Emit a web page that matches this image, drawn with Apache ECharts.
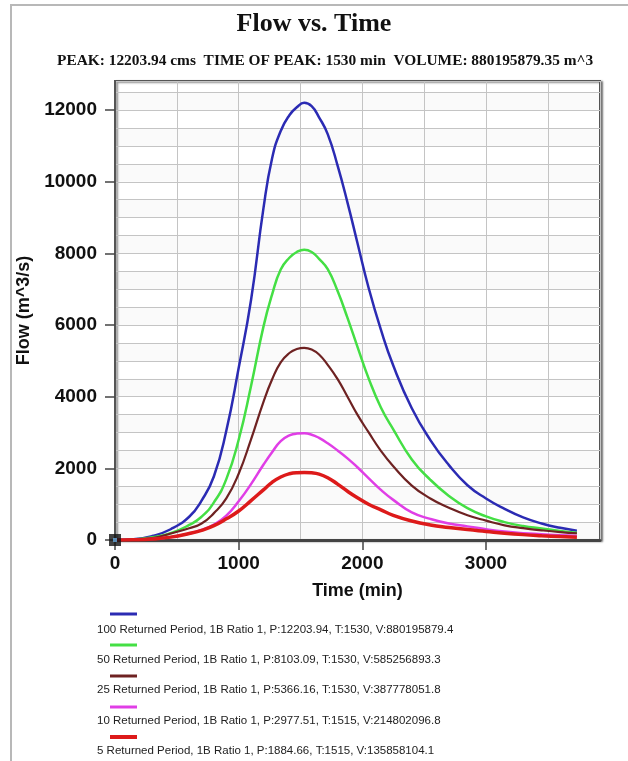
<!DOCTYPE html>
<html>
<head>
<meta charset="utf-8">
<script src="https://cdn.jsdelivr.net/npm/echarts@6/dist/echarts.min.js"></script>
<style>
html,body{margin:0;padding:0;background:#fff;}
#chart{width:628px;height:761px;}
</style>
</head>
<body>
<div id="chart"></div>
<script>
// ---- data ----
var titleText = 'Flow vs. Time';
var subtitleText = 'PEAK: 12203.94 cms  TIME OF PEAK: 1530 min  VOLUME: 880195879.35 m^3';
var xAxisName = 'Time (min)';
var yAxisName = 'Flow (m^3/s)';
var xTickValues = [0, 1000, 2000, 3000];
var yTickValues = [0, 2000, 4000, 6000, 8000, 10000, 12000];
var times = [0,150,300,450,600,700,800,900,1000,1100,1200,1270,1340,1410,1470,1530,1590,1650,1720,1800,1880,1960,2050,2150,2250,2400,2550,2700,2850,3000,3150,3300,3450,3600,3735];
var q100 = [0,20,110,300,650,1100,1780,3050,4800,6700,9250,10650,11420,11860,12080,12204,12110,11800,11330,10450,9420,8300,7050,5870,4870,3680,2790,2090,1530,1160,870,630,460,340,260];
var q50  = [0,15,75,190,420,650,1050,1700,2800,4300,5950,6850,7550,7880,8040,8103,8040,7850,7560,6950,6200,5400,4520,3700,3090,2250,1680,1230,890,660,500,390,320,250,205];
var q25  = [0,10,50,180,330,460,750,1160,1850,2810,3850,4480,4960,5220,5330,5366,5320,5180,4890,4490,4000,3500,3010,2490,2060,1520,1160,900,690,540,410,330,270,220,186];
var q10  = [0,5,30,80,180,280,430,680,1080,1560,2100,2450,2760,2920,2970,2977,2940,2850,2700,2500,2280,2030,1730,1400,1120,770,590,460,380,300,235,190,160,130,112];
var q5   = [0,5,25,80,180,270,400,590,810,1100,1400,1610,1760,1850,1880,1884,1875,1840,1740,1560,1360,1180,1000,840,690,530,420,350,290,240,190,150,120,95,74];
var seriesNames = [
  '100 Returned Period, 1B Ratio 1, P:12203.94, T:1530, V:880195879.4',
  '50 Returned Period, 1B Ratio 1, P:8103.09, T:1530, V:585256893.3',
  '25 Returned Period, 1B Ratio 1, P:5366.16, T:1530, V:387778051.8',
  '10 Returned Period, 1B Ratio 1, P:2977.51, T:1515, V:214802096.8',
  '5 Returned Period, 1B Ratio 1, P:1884.66, T:1515, V:135858104.1'
];
var seriesValues = [q100, q50, q25, q10, q5];
var originPoint = [[0, 0]];

// ---- styles ----
var colors = ['#2b2bb3', '#44df44', '#6e2222', '#e03ee6', '#dd1a1a'];
var widths = [2.5, 2.5, 2.2, 2.5, 3.5];
var peakMax = 12203.94 * 1.05;
var timeMax = 3735 * 1.05;
var sansFont = '"Liberation Sans", Arial, sans-serif';
var serifFont = '"Liberation Serif", "Times New Roman", serif';

function pairs(vals) {
  return times.map(function (t, i) { return [t, vals[i]]; });
}

var series = seriesValues.map(function (vals, i) {
  return {
    type: 'line',
    name: seriesNames[i],
    data: pairs(vals),
    xAxisIndex: 0, yAxisIndex: 0,
    smooth: 0.5,
    showSymbol: false,
    symbol: 'none',
    lineStyle: { color: colors[i], width: widths[i] },
    itemStyle: { color: colors[i] },
    z: 3 + i
  };
});
series.push({
  type: 'scatter', data: originPoint, symbol: 'rect', symbolSize: 12,
  itemStyle: { color: '#111' }, z: 20, silent: true
});
series.push({
  type: 'scatter', data: originPoint, symbol: 'rect', symbolSize: 4,
  itemStyle: { color: '#6ad' }, z: 21, silent: true
});

// legend graphics
var graphics = [];
var swY = [614, 645, 676, 707, 737];
var txY = [631, 661, 691, 722, 752];
seriesNames.forEach(function (n, i) {
  graphics.push({
    type: 'rect', left: 110, top: swY[i] - (i === 4 ? 2 : 1.5),
    shape: { width: 27, height: i === 4 ? 4 : 3 },
    style: { fill: colors[i] }
  });
  graphics.push({
    type: 'text', left: 97, top: txY[i] - 7,
    style: { text: n, fill: '#222', font: '11.5px ' + sansFont }
  });
});
// outer frame
graphics.push({ type: 'line', shape: { x1: 10, y1: 5, x2: 628, y2: 5 }, style: { stroke: '#b8b8b8', lineWidth: 2 } });
graphics.push({ type: 'line', shape: { x1: 11, y1: 5, x2: 11, y2: 761 }, style: { stroke: '#b8b8b8', lineWidth: 2 } });

function plain(v) { return String(Math.round(v)); }

var chart = echarts.init(document.getElementById('chart'), null, { renderer: 'canvas' });
chart.setOption({
  backgroundColor: '#fff',
  animation: false,
  title: [
    { text: titleText, left: 'center', top: 6,
      textStyle: { fontFamily: serifFont, fontWeight: 'bold', fontSize: 26, color: '#111' } },
    { text: subtitleText, left: 52, top: 49,
      textStyle: { fontFamily: serifFont, fontWeight: 'bold', fontSize: 15.4, color: '#111' } }
  ],
  grid: {
    left: 115, right: 28, top: 81, bottom: 221,
    show: true, backgroundColor: '#fff', borderColor: '#555', borderWidth: 2,
    shadowColor: 'rgba(0,0,0,0.45)', shadowBlur: 2, shadowOffsetX: 2, shadowOffsetY: 1
  },
  xAxis: [
    {
      type: 'value', min: 0, max: timeMax, interval: 500, position: 'bottom',
      axisLine: { show: true, onZero: false, lineStyle: { color: '#444', width: 3 } },
      axisTick: { show: false }, axisLabel: { show: false },
      splitLine: { show: true, lineStyle: { color: '#c4c4c4', width: 1 } }
    },
    {
      type: 'value', min: 0, max: timeMax, interval: 1000, position: 'bottom', offset: 0,
      name: xAxisName, nameLocation: 'middle', nameGap: 42,
      nameTextStyle: { fontFamily: sansFont, fontWeight: 'bold', fontSize: 18, color: '#111' },
      axisLine: { show: false, onZero: false },
      axisTick: { show: true, length: 10, customValues: xTickValues, lineStyle: { color: '#444', width: 1.5 } },
      axisLabel: { customValues: xTickValues, formatter: plain, margin: 14, fontFamily: sansFont, fontWeight: 'bold', fontSize: 19, color: '#111' },
      splitLine: { show: false }
    }
  ],
  yAxis: [
    {
      type: 'value', min: 0, max: peakMax, interval: 500, position: 'left',
      axisLine: { show: true, onZero: false, lineStyle: { color: '#555', width: 2 } },
      axisTick: { show: false }, axisLabel: { show: false },
      splitLine: { show: true, lineStyle: { color: '#c4c4c4', width: 1 } },
      splitArea: { show: true, areaStyle: { color: ['rgba(0,0,0,0.02)', 'rgba(255,255,255,0)'] } }
    },
    {
      type: 'value', min: 0, max: peakMax, interval: 2000, position: 'left', offset: 0,
      name: yAxisName, nameLocation: 'middle', nameGap: 80, nameRotate: 90,
      nameTextStyle: { fontFamily: sansFont, fontWeight: 'bold', fontSize: 18, color: '#111' },
      axisLine: { show: false, onZero: false },
      axisTick: { show: true, length: 10, customValues: yTickValues, lineStyle: { color: '#444', width: 1.5 } },
      axisLabel: { customValues: yTickValues, formatter: plain, margin: 18, fontFamily: sansFont, fontWeight: 'bold', fontSize: 19, color: '#111' },
      splitLine: { show: false }
    }
  ],
  graphic: graphics,
  series: series
});
</script>
</body>
</html>
